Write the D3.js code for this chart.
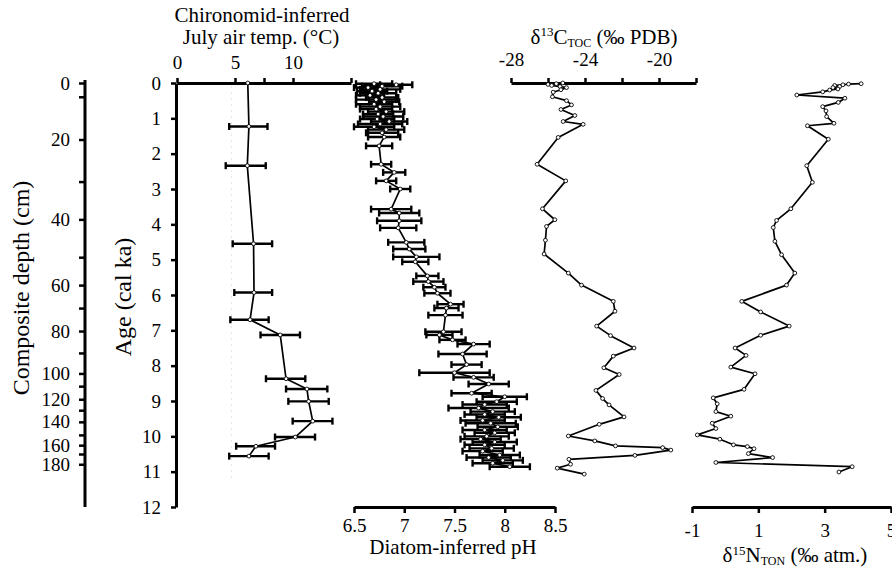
<!DOCTYPE html>
<html>
<head>
<meta charset="utf-8">
<script src="https://cdn.jsdelivr.net/npm/d3@7"></script>
<style>
  body { margin: 0; background: #fff; }
  svg text { font-family: "Liberation Serif", "Times New Roman", serif; fill: #000; }
</style>
</head>
<body>
<svg id="fig"></svg>
<script>
// age model: composite depth (cm) -> age (cal ka)
const depthTicks = [0,10,20,30,40,50,60,70,80,90,100,110,120,130,140,150,160,170,180];
const depthAges  = [0,0.39,1.60,2.79,3.86,4.93,5.72,6.37,7.02,7.64,8.22,8.58,8.95,9.26,9.59,9.96,10.25,10.50,10.79];
const depthLabels = [0,20,40,60,80,100,120,140,160,180];
const ageTicks = [0,1,2,3,4,5,6,7,8,9,10,11,12];

// chironomid-inferred July air temperature
const chiroAge  = [0.0, 1.23, 2.34, 4.55, 5.93, 6.7, 7.13, 8.37, 8.66, 9.01, 9.57, 10.02, 10.28, 10.56];
const chiroTemp = [6.1, 6.2, 6.06, 6.6, 6.64, 6.3, 8.9, 9.4, 11.2, 11.35, 11.7, 10.2, 6.8, 6.2];
const chiroLo   = [null, 4.5, 4.2, 4.8, 4.94, 4.6, 7.2, 7.67, 9.4, 9.6, 9.97, 8.45, 5.1, 4.5];
const chiroHi   = [null, 7.8, 7.65, 8.2, 8.2, 7.9, 10.6, 11.06, 12.96, 13.08, 13.4, 11.9, 8.45, 7.9];
const chiroRef  = 4.7;
const chiroTicks = [0,5,7.5,10,15];
const chiroLabels = [0,5,10];

// diatom-inferred pH
const phAge = [0.02,0.05,0.09,0.13,0.18,0.23,0.29,0.35,0.41,0.47,0.53,0.6,0.67,0.74,0.81,0.88,0.95,1.02,1.09,1.16,1.24,1.32,1.41,1.53,1.78,
  2.3,2.53,2.77,3.0,3.57,3.68,3.9,4.1,4.51,4.7,4.92,5.06,5.46,5.62,5.78,5.95,6.26,6.37,6.57,7.04,7.13,7.27,7.39,7.67,7.97,8.2,
  8.33,8.52,8.78,8.88,9.02,9.1,9.2,9.3,9.38,9.46,9.55,9.63,9.73,9.82,9.9,10.0,10.08,10.16,10.24,10.34,10.42,10.53,10.6,10.68,10.76,10.86];
const phVal = [6.70,6.92,6.78,6.64,6.76,6.68,6.74,6.66,6.78,6.72,6.80,6.70,6.76,6.72,6.82,6.74,6.79,6.73,6.85,6.76,6.70,6.82,6.78,6.80,6.75,
  6.77,6.9,6.82,6.96,6.87,6.95,6.95,6.94,7.02,7.05,7.12,7.11,7.23,7.24,7.3,7.33,7.46,7.42,7.41,7.39,7.35,7.48,7.69,7.58,7.62,7.5,
  7.69,7.84,7.67,8.0,7.92,7.8,7.74,7.88,7.8,7.94,7.78,7.86,7.93,7.8,7.9,7.82,7.76,7.9,7.8,7.87,7.78,7.95,7.84,7.98,7.88,8.05];
const phErr = [0.18,0.16,0.2,0.14,0.2,0.15,0.18,0.14,0.16,0.2,0.15,0.18,0.2,0.16,0.18,0.15,0.2,0.17,0.18,0.22,0.2,0.18,0.16,0.16,0.13,
  0.1,0.11,0.1,0.1,0.2,0.2,0.22,0.18,0.18,0.16,0.23,0.13,0.11,0.15,0.11,0.13,0.13,0.12,0.17,0.18,0.13,0.13,0.16,0.24,0.15,0.35,
  0.2,0.2,0.2,0.22,0.2,0.22,0.3,0.22,0.2,0.22,0.22,0.25,0.2,0.22,0.2,0.22,0.2,0.22,0.2,0.22,0.2,0.2,0.22,0.2,0.2,0.2];
const phTicks = [6.5,7,7.5,8,8.5];

// d13C TOC (per mil PDB)
const cAge = [0.0,0.02,0.04,0.07,0.1,0.13,0.19,0.26,0.39,0.5,0.62,0.75,0.92,1.09,1.17,1.54,2.3,2.77,3.56,3.87,4.06,4.45,4.84,5.38,5.72,
  6.18,6.46,6.88,7.15,7.5,7.73,8.06,8.25,8.7,8.93,9.11,9.45,9.66,9.99,10.13,10.27,10.32,10.39,10.54,10.65,10.79,10.9,11.07];
const cVal = [-25.2,-25.55,-26.0,-25.8,-25.35,-25.0,-25.3,-25.72,-25.76,-25.0,-24.73,-25.3,-24.55,-25.18,-24.1,-25.45,-26.59,-25.04,-26.3,-25.63,-26.08,-26.14,-26.21,-24.9,-24.19,
  -22.47,-22.38,-23.37,-22.62,-21.35,-22.47,-22.98,-22.15,-23.41,-23.05,-22.7,-21.89,-23.23,-24.9,-23.47,-22.35,-19.8,-19.36,-21.3,-24.87,-24.78,-25.5,-24.04];
const cTicks = [-28,-26,-24,-22,-20,-18];
const cLabels = [-28,-24,-20];

// d15N TON (per mil atm.)
const nAge = [0.02,0.03,0.05,0.07,0.1,0.13,0.17,0.2,0.25,0.34,0.43,0.55,0.67,0.79,0.95,1.14,1.21,1.59,2.34,2.81,3.56,3.89,4.09,4.48,4.86,
  5.38,5.72,6.18,6.48,6.88,7.14,7.5,7.71,8.04,8.23,8.67,8.91,9.08,9.3,9.43,9.63,9.78,9.96,10.08,10.24,10.29,10.35,10.49,10.6,10.74,10.86,11.01];
const nVal = [4.1,3.72,3.55,3.3,3.45,3.25,3.4,3.15,2.94,2.16,3.61,3.41,2.94,3.04,3.06,3.28,2.48,3.11,2.46,2.63,1.98,1.55,1.45,1.5,1.7,
  2.1,1.85,0.5,1.07,1.93,1.07,0.3,0.63,0.17,0.9,0.57,-0.36,-0.24,-0.28,0.17,-0.39,-0.28,-0.84,-0.16,0.25,0.67,0.87,0.7,1.43,-0.28,3.83,3.43];
const nTicks = [-1,1,3,5];

const width = 892, height = 569;
const svg = d3.select('#fig').attr('width', width).attr('height', height);

const ageY = d3.scaleLinear().domain([0, 12]).range([83, 507]);
const depthY = d3.scaleLinear().domain(depthTicks).range(depthAges.map(a => ageY(a)));
const chiroX = d3.scaleLinear().domain([0, 15]).range([177, 351]);
const phX = d3.scaleLinear().domain([6.5, 8.5]).range([354, 555]);
const cX = d3.scaleLinear().domain([-28, -18]).range([511, 696]);
const nX = d3.scaleLinear().domain([-1, 5]).range([692, 891]);

function styleAxis(g, fs) {
  g.attr('font-family', null).attr('font-size', fs);
  g.selectAll('.domain').attr('stroke-width', 3);
  g.selectAll('.tick line').attr('stroke-width', 2.5);
}

// depth axis
const depthAxis = svg.append('g')
  .attr('transform', 'translate(85,0)')
  .call(d3.axisLeft(depthY).tickValues(depthTicks).tickSize(6).tickPadding(9).tickSizeOuter(0)
    .tickFormat(d => depthLabels.includes(d) ? d : ''));
depthAxis.select('.domain').remove();
styleAxis(depthAxis, 19);
svg.append('line')
  .attr('x1', 85).attr('x2', 85)
  .attr('y1', ageY(0) - 3).attr('y2', ageY(12))
  .attr('stroke', '#000').attr('stroke-width', 3);

// age axis
const ageAxis = svg.append('g')
  .attr('transform', 'translate(176,0)')
  .call(d3.axisLeft(ageY).tickValues(ageTicks).tickSize(5).tickPadding(10).tickSizeOuter(0));
styleAxis(ageAxis, 19);

// chironomid axis (top)
const chiroAxis = svg.append('g')
  .attr('transform', `translate(0,${ageY(0)})`)
  .call(d3.axisTop(chiroX).tickValues(chiroTicks).tickSize(5).tickPadding(9).tickSizeOuter(0)
    .tickFormat(d => chiroLabels.includes(d) ? d : ''));
styleAxis(chiroAxis, 19);

// pH axis (bottom)
const phAxis = svg.append('g')
  .attr('transform', `translate(0,${ageY(12)})`)
  .call(d3.axisBottom(phX).tickValues(phTicks).tickSize(6).tickPadding(6).tickSizeOuter(0)
    .tickFormat(d => String(d)));
styleAxis(phAxis, 19);

// d13C axis (top)
const cAxis = svg.append('g')
  .attr('transform', `translate(0,${ageY(0)})`)
  .call(d3.axisTop(cX).tickValues(cTicks).tickSize(5).tickPadding(12).tickSizeOuter(0)
    .tickFormat(d => cLabels.includes(d) ? String(d) : ''));
styleAxis(cAxis, 19);

// d15N axis (bottom)
const nAxis = svg.append('g')
  .attr('transform', `translate(0,${ageY(12)})`)
  .call(d3.axisBottom(nX).tickValues(nTicks).tickSize(6).tickPadding(11).tickSizeOuter(0)
    .tickFormat(d => String(d)));
styleAxis(nAxis, 19);

// axis titles
svg.append('text')
  .attr('transform', 'translate(29,288) rotate(-90)')
  .attr('text-anchor', 'middle').attr('font-size', 24)
  .text('Composite depth (cm)');
svg.append('text')
  .attr('transform', 'translate(131,297) rotate(-90)')
  .attr('text-anchor', 'middle').attr('font-size', 24)
  .text('Age (cal ka)');
svg.append('text').attr('x', 262).attr('y', 22)
  .attr('text-anchor', 'middle').attr('font-size', 21)
  .text('Chironomid-inferred');
svg.append('text').attr('x', 261).attr('y', 44)
  .attr('text-anchor', 'middle').attr('font-size', 21)
  .text('July air temp. (°C)');
svg.append('text').attr('x', 453).attr('y', 554)
  .attr('text-anchor', 'middle').attr('font-size', 21)
  .text('Diatom-inferred pH');

const cTitle = svg.append('text').attr('x', 604).attr('y', 44)
  .attr('text-anchor', 'middle').attr('font-size', 21);
cTitle.append('tspan').text('δ');
cTitle.append('tspan').attr('font-size', 13).attr('dy', -8).text('13');
cTitle.append('tspan').attr('dy', 8).text('C');
cTitle.append('tspan').attr('font-size', 12).attr('dy', 3).text('TOC');
cTitle.append('tspan').attr('dy', -3).text(' (‰ PDB)');

const nTitle = svg.append('text').attr('x', 795).attr('y', 562)
  .attr('text-anchor', 'middle').attr('font-size', 21);
nTitle.append('tspan').text('δ');
nTitle.append('tspan').attr('font-size', 13).attr('dy', -7).text('15');
nTitle.append('tspan').attr('dy', 7).text('N');
nTitle.append('tspan').attr('font-size', 12).attr('dy', 3).text('TON');
nTitle.append('tspan').attr('dy', -3).text(' (‰ atm.)');

// helpers
function errorBars(g, rows, x, cap) {
  rows.forEach(r => {
    if (r.lo == null) return;
    const y = ageY(r.age);
    g.append('line').attr('x1', x(r.lo)).attr('x2', x(r.hi)).attr('y1', y).attr('y2', y);
    g.append('line').attr('x1', x(r.lo)).attr('x2', x(r.lo)).attr('y1', y - cap).attr('y2', y + cap);
    g.append('line').attr('x1', x(r.hi)).attr('x2', x(r.hi)).attr('y1', y - cap).attr('y2', y + cap);
  });
}
function series(rows, x) {
  const line = d3.line().x(d => x(d.v)).y(d => ageY(d.age));
  svg.append('path')
    .attr('d', line(rows))
    .attr('fill', 'none').attr('stroke', '#000').attr('stroke-width', 1.7)
    .attr('stroke-linejoin', 'round');
  svg.append('g').selectAll('circle').data(rows).enter().append('circle')
    .attr('cx', line.x()).attr('cy', line.y())
    .attr('r', 1.9).attr('fill', '#fff').attr('stroke', '#000').attr('stroke-width', 0.9);
}

// chironomid
svg.append('line')
  .attr('x1', chiroX(chiroRef)).attr('x2', chiroX(chiroRef))
  .attr('y1', ageY(0.1)).attr('y2', ageY(11.3))
  .attr('stroke', '#d0d0d0').attr('stroke-width', 1).attr('stroke-dasharray', '1,5');
const chiroRows = chiroAge.map((a, i) => ({age: a, v: chiroTemp[i], lo: chiroLo[i], hi: chiroHi[i]}));
errorBars(svg.append('g').attr('stroke', '#000').attr('stroke-width', 2.4), chiroRows, chiroX, 3.5);
series(chiroRows, chiroX);

// pH
const phRows = phAge.map((a, i) => ({age: a, v: phVal[i], lo: phVal[i] - phErr[i], hi: phVal[i] + phErr[i]}));
errorBars(svg.append('g').attr('stroke', '#000').attr('stroke-width', 2.4), phRows, phX, 3.5);
series(phRows, phX);

// isotopes
series(cAge.map((a, i) => ({age: a, v: cVal[i]})), cX);
series(nAge.map((a, i) => ({age: a, v: nVal[i]})), nX);
</script>
</body>
</html>
